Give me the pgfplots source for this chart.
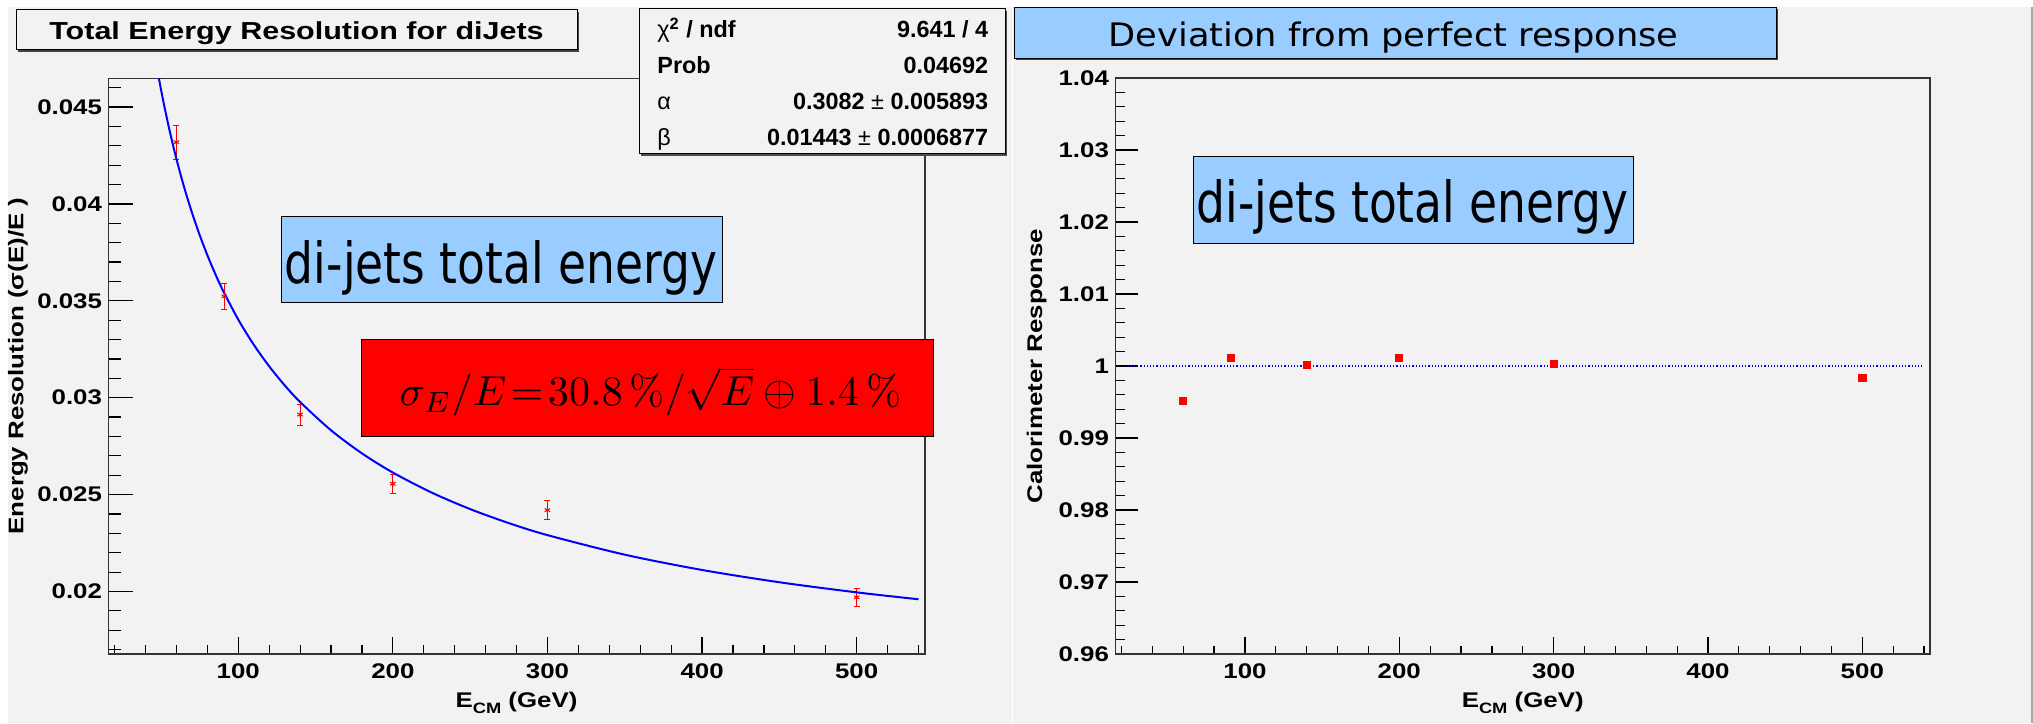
\documentclass[border=0pt]{standalone}
\usepackage{pgfplots}
\pgfplotsset{compat=1.18}
\usepackage{fontspec}
\newfontfamily\rootfont[FakeStretch=1.22]{Liberation Sans}
\newfontfamily\titlefont[FakeStretch=1.24]{Liberation Sans}
\newfontfamily\statfont{Liberation Sans}
\newfontfamily\comicfont{DejaVu Sans}
\definecolor{padgray}{RGB}{242,242,242}
\definecolor{lblue}{RGB}{153,204,255}
\newcommand{\lbl}{\rootfont\bfseries\fontsize{10.6}{12}\selectfont}
\newcommand{\stat}{\statfont\bfseries\fontsize{11.7}{13}\selectfont}

\begin{document}
\begin{tikzpicture}
% canvas and pads
\fill[white] (0pt,0pt) rectangle (1016.5pt,361.5pt);
\fill[padgray] (3.75pt,0pt) rectangle (505.75pt,357.75pt);
\fill[padgray] (506.5pt,0pt) rectangle (1015.5pt,357.75pt);
\fill[black!35] (1015.5pt,0pt) rectangle (1016.5pt,357.75pt);

% ---------------- left panel ----------------
\begin{axis}[
  at={(54.2pt,34.6pt)}, anchor=south west,
  scale only axis, width=408.15pt, height=287.7pt,
  xmin=16, xmax=544, ymin=0.016785, ymax=0.046476,
  scaled x ticks=false, scaled y ticks=false,
  axis background/.style={fill=padgray},
  axis line style={black!80, line width=0.8pt},
  tick pos=left,
  xtick={100,200,300,400,500}, xticklabels={100,200,300,400,500},
  minor xtick={20,40,...,540},
  ytick={0.02,0.025,0.03,0.035,0.04,0.045},
  yticklabels={0.02,0.025,0.03,0.035,0.04,0.045},
  minor ytick={0.017,0.018,0.019,0.021,0.022,0.023,0.024,0.026,0.027,0.028,0.029,0.031,0.032,0.033,0.034,0.036,0.037,0.038,0.039,0.041,0.042,0.043,0.044,0.046},
  xtick style={black, line width=0.6pt, /pgfplots/major tick length=8.3pt, /pgfplots/minor tick length=4.2pt},
  ytick style={black, line width=0.6pt, /pgfplots/major tick length=12.5pt, /pgfplots/minor tick length=6.2pt},
  tick label style={font=\lbl},
  xticklabel style={anchor=north, inner sep=0pt, yshift=-4.75pt},
  yticklabel style={anchor=east, inner sep=0pt, xshift=-3pt},
]
\addplot[only marks, mark=asterisk, mark size=1.6pt, red, mark options={line width=0.5pt},
  error bars/.cd, y dir=both, y explicit,
  error bar style={red, line width=0.5pt},
  error mark options={rotate=90, red, mark size=1.5pt, line width=0.5pt}]
  table[x=E, y=r, y error=e] {
E r e
60 0.04318 0.00087
91 0.03523 0.00068
140 0.02913 0.00054
200 0.02556 0.00050
300 0.02420 0.00047
500 0.01970 0.00045
};
\addplot[blue, line width=1pt, smooth] coordinates {
(48,0.046767) (50,0.045913) (52,0.045110) (55,0.043991) (58,0.042964)
(60,0.042324) (63,0.041424) (66,0.040588) (70,0.039563) (75,0.038402)
(80,0.037357) (85,0.036410) (90,0.035548) (100,0.034031) (110,0.032737)
(120,0.031619) (130,0.030641) (140,0.029778) (160,0.028318) (180,0.027128)
(200,0.026137) (225,0.025108) (250,0.024252) (275,0.023529) (300,0.022909)
(350,0.021900) (400,0.021111) (450,0.020477) (500,0.019955) (540,0.019599)
};
\end{axis}

% ---------------- right panel ----------------
\begin{axis}[
  at={(557.65pt,34.5pt)}, anchor=south west,
  scale only axis, width=407.45pt, height=288pt,
  xmin=16, xmax=544, ymin=0.96, ymax=1.04,
  scaled x ticks=false, scaled y ticks=false,
  axis background/.style={fill=padgray},
  axis line style={black!80, line width=0.8pt},
  tick pos=left,
  xtick={100,200,300,400,500}, xticklabels={100,200,300,400,500},
  minor xtick={20,40,...,540},
  ytick={0.96,0.97,0.98,0.99,1,1.01,1.02,1.03,1.04},
  yticklabels={0.96,0.97,0.98,0.99,1,1.01,1.02,1.03,1.04},
  minor ytick={0.962,0.964,0.966,0.968,0.972,0.974,0.976,0.978,0.982,0.984,0.986,0.988,0.992,0.994,0.996,0.998,1.002,1.004,1.006,1.008,1.012,1.014,1.016,1.018,1.022,1.024,1.026,1.028,1.032,1.034,1.036,1.038},
  xtick style={black, line width=0.6pt, /pgfplots/major tick length=8.3pt, /pgfplots/minor tick length=4.2pt},
  ytick style={black, line width=0.6pt, /pgfplots/major tick length=11.5pt, /pgfplots/minor tick length=5pt},
  tick label style={font=\lbl},
  xticklabel style={anchor=north, inner sep=0pt, yshift=-4.75pt},
  yticklabel style={anchor=east, inner sep=0pt, xshift=-3pt},
]
\addplot[blue, densely dotted, line width=0.6pt] coordinates {(24,1) (540,1)};
\addplot[only marks, mark=square*, mark size=1.8pt, red, mark options={draw=red, fill=red}] coordinates {
(60,0.9951) (91,1.0011) (140,1.0001) (200,1.0011) (300,1.0003) (500,0.9983)
};
\end{axis}

% ---------------- axis titles ----------------
\node[rotate=90, anchor=base, inner sep=0pt] at (11.65pt,178.5pt) {\lbl Energy Resolution (σ(E)/E )};
\node[anchor=base, inner sep=0pt] at (258.25pt,8pt) {\lbl E\raisebox{-0.3em}{\fontsize{7.5}{8}\selectfont CM} (GeV)};
\node[rotate=90, anchor=base, inner sep=0pt] at (521pt,178.5pt) {\lbl Calorimeter Response};
\node[anchor=base, inner sep=0pt] at (761.35pt,8pt) {\lbl E\raisebox{-0.3em}{\fontsize{7.5}{8}\selectfont CM} (GeV)};

% ---------------- left title ----------------
\fill[black!75] (9.2pt,335.6pt) rectangle (289.7pt,355.6pt);
\filldraw[fill=padgray, draw=black, line width=0.5pt] (8pt,336.85pt) rectangle (288.5pt,356.85pt);
\node[anchor=base, inner sep=0pt] at (148.25pt,341.85pt) {\titlefont\bfseries\fontsize{12.3}{14}\selectfont Total Energy Resolution for diJets};

% ---------------- stats box ----------------
\fill[black!70] (320.5pt,283.5pt) rectangle (503.5pt,356pt);
\filldraw[fill=padgray, draw=black, line width=0.5pt] (319.5pt,284.5pt) rectangle (502.5pt,357pt);
\node[anchor=base west, inner sep=0pt] at (328.5pt,342.5pt) {\stat{\mdseries χ}\textsuperscript{2} / ndf};
\node[anchor=base east, inner sep=0pt] at (494.25pt,342.5pt) {\stat 9.641 / 4};
\node[anchor=base west, inner sep=0pt] at (328.5pt,324.5pt) {\stat Prob};
\node[anchor=base east, inner sep=0pt] at (494.25pt,324.5pt) {\stat 0.04692};
\node[anchor=base west, inner sep=0pt] at (328.5pt,306.5pt) {\stat\mdseries α};
\node[anchor=base east, inner sep=0pt] at (494.25pt,306.5pt) {\stat 0.3082 {\mdseries ±} 0.005893};
\node[anchor=base west, inner sep=0pt] at (328.5pt,288.5pt) {\stat\mdseries β};
\node[anchor=base east, inner sep=0pt] at (494.25pt,288.5pt) {\stat 0.01443 {\mdseries ±} 0.0006877};

% ---------------- right title ----------------
\fill[black!75] (508pt,331.35pt) rectangle (889pt,356.85pt);
\filldraw[fill=lblue, draw=black, line width=0.5pt] (507pt,332.35pt) rectangle (888pt,357.85pt);
\node[anchor=base, inner sep=0pt] at (696.8pt,338.15pt) {\resizebox{285pt}{12.3pt}{\comicfont Deviation from perfect response}};

% ---------------- di-jets boxes ----------------
\filldraw[fill=lblue, draw=black, line width=0.5pt] (140.7pt,210.45pt) rectangle (361.1pt,253.25pt);
\node[anchor=base, inner sep=0pt] at (250.5pt,219.5pt) {\resizebox{216pt}{21.5pt}{\comicfont di-jets total energy}};
\filldraw[fill=lblue, draw=black, line width=0.5pt] (596.75pt,239.6pt) rectangle (816.75pt,283pt);
\node[anchor=base, inner sep=0pt] at (706.25pt,250pt) {\resizebox{216pt}{21.5pt}{\comicfont di-jets total energy}};

% ---------------- formula box ----------------
\filldraw[fill=red, draw=black, line width=0.5pt] (180.8pt,143.15pt) rectangle (466.5pt,191.5pt);
\node[anchor=base, inner sep=0pt] at (325.15pt,158.5pt) {\resizebox{250.7pt}{!}{$\sigma_{E}/E\!=\!30.8\,\%/\sqrt{E}\oplus1.4\,\%$}};
\end{tikzpicture}
\end{document}
